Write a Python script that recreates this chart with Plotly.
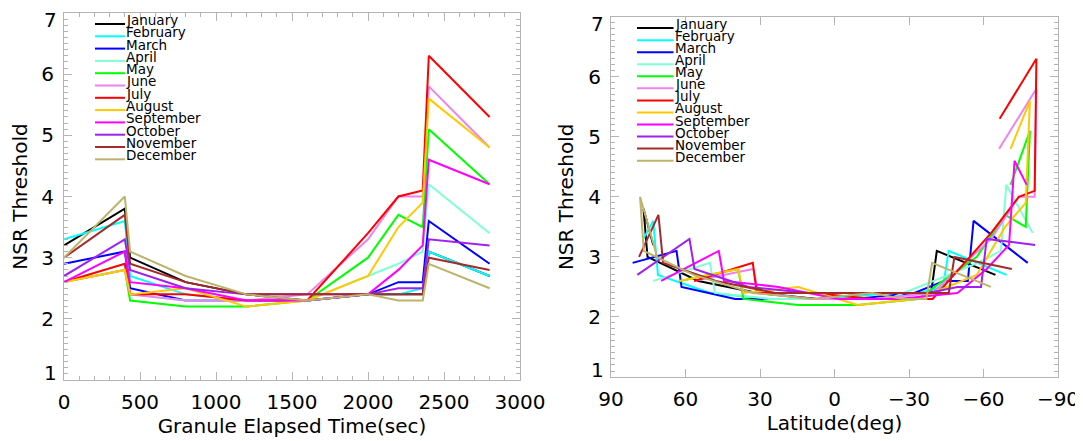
"""Monthly NSR threshold vs granule elapsed time and latitude."""

import plotly.graph_objects as go
from plotly.subplots import make_subplots

# Months, line colours and sample times along the orbit
MONTHS = ["January", "February", "March", "April", "May", "June", "July",
          "August", "September", "October", "November", "December"]
COLORS = ["#000000", "#00ffff", "#0000ff", "#7fffd4", "#00ff00", "#ee82ee",
          "#ff0000", "#ffc800", "#ff00ff", "#a020f0", "#a52a2a", "#bdb36b"]
TIME_SEC = [0, 400, 435, 800, 1200, 1600, 2000, 2200, 2360, 2400, 2800]

# NSR threshold per month at each sample time
NSR_JAN = [3.2, 3.8, 3.0, 2.6, 2.4, 2.3, 2.4, 2.4, 2.4, 3.1, 2.7]
NSR_FEB = [3.3, 3.6, 2.7, 2.4, 2.3, 2.3, 2.4, 2.4, 2.5, 3.1, 2.7]
NSR_MAR = [2.9, 3.1, 2.5, 2.3, 2.3, 2.3, 2.4, 2.6, 2.6, 3.6, 2.9]
NSR_APR = [2.6, 2.9, 2.4, 2.3, 2.3, 2.3, 2.7, 2.9, 3.1, 4.2, 3.4]
NSR_MAY = [2.6, 2.8, 2.3, 2.2, 2.2, 2.3, 3.0, 3.7, 3.5, 5.1, 4.2]
NSR_JUN = [2.6, 2.8, 2.4, 2.3, 2.3, 2.4, 3.3, 4.0, 4.0, 5.8, 4.8]
NSR_JUL = [2.6, 2.9, 2.4, 2.4, 2.3, 2.3, 3.4, 4.0, 4.1, 6.3, 5.3]
NSR_AUG = [2.6, 2.8, 2.4, 2.5, 2.2, 2.3, 2.7, 3.5, 3.9, 5.6, 4.8]
NSR_SEP = [2.6, 3.1, 2.6, 2.5, 2.3, 2.3, 2.4, 2.8, 3.2, 4.6, 4.2]
NSR_OCT = [2.7, 3.3, 2.8, 2.5, 2.4, 2.4, 2.4, 2.5, 2.5, 3.3, 3.2]
NSR_NOV = [3.0, 3.7, 2.9, 2.6, 2.4, 2.4, 2.4, 2.4, 2.4, 3.0, 2.8]
NSR_DEC = [3.0, 4.0, 3.1, 2.7, 2.4, 2.3, 2.4, 2.3, 2.3, 2.9, 2.5]

# Latitude (deg) of each sample per month
LAT_JAN = [73.0, 76.9, 75.3, 54.8, 31.0, 6.9, -17.2, -29.2, -38.9, -41.2, -64.8]
LAT_FEB = [77.0, 73.0, 71.1, 50.1, 26.2, 2.1, -22.0, -34.1, -43.7, -46.0, -69.3]
LAT_MAR = [81.3, 63.6, 61.6, 40.0, 16.0, -8.1, -32.2, -44.1, -53.7, -56.0, -77.8]
LAT_APR = [73.0, 50.2, 48.1, 26.3, 2.2, -21.9, -45.9, -57.7, -67.0, -69.2, -79.8]
LAT_MAY = [62.4, 38.8, 36.7, 14.7, -9.4, -33.5, -57.3, -68.7, -77.0, -78.7, -70.9]
LAT_JUN = [56.5, 32.7, 30.6, 8.6, -15.5, -39.5, -63.1, -74.2, -80.6, -81.3, -66.3]
LAT_JUL = [56.5, 32.9, 31.3, 8.6, -15.5, -39.5, -63.1, -74.2, -80.6, -81.3, -66.5]
LAT_AUG = [62.4, 38.8, 36.7, 14.7, -9.4, -33.5, -57.3, -68.7, -77.0, -78.7, -70.9]
LAT_SEP = [69.8, 46.6, 44.5, 22.6, -1.5, -25.6, -49.5, -61.3, -70.3, -72.5, -77.4]
LAT_OCT = [79.4, 58.4, 56.4, 34.6, 10.6, -13.5, -37.6, -49.5, -59.0, -61.3, -80.8]
LAT_NOV = [78.7, 70.9, 69.0, 47.8, 23.8, -0.3, -24.4, -36.4, -46.0, -48.3, -71.4]
LAT_DEC = [71.4, 78.3, 76.8, 56.7, 32.9, 8.8, -15.3, -27.4, -37.0, -39.3, -63.0]

# Tick values and labels
TIME_TICKS = [0, 500, 1000, 1500, 2000, 2500, 3000]
LAT_TICKS = [90, 60, 30, 0, -30, -60, -90]
NSR_TICKS = [1, 2, 3, 4, 5, 6, 7]
NSR_TICK_TEXT = ["1", "2", "3", "4", "5", "6", "7"]

NSR = [NSR_JAN, NSR_FEB, NSR_MAR, NSR_APR, NSR_MAY, NSR_JUN,
       NSR_JUL, NSR_AUG, NSR_SEP, NSR_OCT, NSR_NOV, NSR_DEC]
LAT = [LAT_JAN, LAT_FEB, LAT_MAR, LAT_APR, LAT_MAY, LAT_JUN,
       LAT_JUL, LAT_AUG, LAT_SEP, LAT_OCT, LAT_NOV, LAT_DEC]

# page body adds an 8px margin, so the figure is drawn that much smaller
PAD = 8
W, H = 1083 - PAD, 441 - PAD
FONT = "DejaVu Sans"
AXIS_GREY = "#b4b4b4"


def xdom(left, right):
    return [(left - PAD) / W, (right - PAD) / W]


def ydom(top, bottom):
    return [(H - (bottom - PAD)) / H, (H - (top - PAD)) / H]


def add_legend(fig, xref, yref, x0, x1, top, step, height):
    """Draw the compact month legend inside a panel."""
    for i, (month, color) in enumerate(zip(MONTHS, COLORS)):
        y = 1 - (top + step * i) / height
        fig.add_shape(type="line", xref=xref, yref=yref, x0=x0, x1=x1,
                      y0=y, y1=y, line=dict(color=color, width=2))
        fig.add_annotation(text=month, xref=xref, yref=yref, x=x1, y=y,
                           xanchor="left", yanchor="middle", yshift=4,
                           showarrow=False, borderpad=0,
                           font=dict(family=FONT, size=13.5, color="black"))


def add_end_labels(fig, xref, yref):
    """IDL nudges the first and last y labels inside the box."""
    for value, text, shift in [(NSR_TICKS[0], NSR_TICK_TEXT[0], 7),
                               (NSR_TICKS[-1], NSR_TICK_TEXT[-1], -7)]:
        fig.add_annotation(text=text, xref=xref, yref=yref, x=0, y=value,
                           xanchor="right", yanchor="middle", xshift=-6,
                           yshift=shift, showarrow=False, borderpad=0,
                           font=dict(family=FONT, size=20, color="black"))


fig = make_subplots(rows=1, cols=2)

for i, month in enumerate(MONTHS):
    line = dict(color=COLORS[i], width=2)
    fig.add_trace(go.Scatter(x=TIME_SEC, y=NSR[i], mode="lines", line=line,
                             name=month), row=1, col=1)
    fig.add_trace(go.Scatter(x=LAT[i], y=NSR[i], mode="lines", line=line,
                             name=month), row=1, col=2)

axis_style = dict(
    showline=True, linecolor=AXIS_GREY, linewidth=1, mirror="allticks",
    ticks="inside", ticklen=8, tickwidth=1, tickcolor=AXIS_GREY,
    showgrid=False, zeroline=False, automargin=False,
    tickfont=dict(family=FONT, size=20, color="black"),
    title_font=dict(family=FONT, size=20, color="black"),
)
minor_style = dict(ticks="inside", ticklen=4, tickcolor=AXIS_GREY, showgrid=False)
inner_text = [""] + NSR_TICK_TEXT[1:-1] + [""]

fig.update_layout(
    width=W, height=H,
    margin=dict(l=0, r=0, t=0, b=0),
    paper_bgcolor="white", plot_bgcolor="white",
    showlegend=False,
    xaxis=dict(axis_style, domain=xdom(64, 520), range=[0, 3000],
               tickvals=TIME_TICKS, minor=dict(minor_style, dtick=100),
               ticklabelstandoff=4,
               title=dict(text="Granule Elapsed Time(sec)", standoff=4)),
    yaxis=dict(axis_style, domain=ydom(13, 380), range=[1, 7],
               tickvals=NSR_TICKS, ticktext=inner_text,
               minor=dict(minor_style, dtick=0.1), ticklabelstandoff=5,
               title=dict(text="NSR Threshold", standoff=9)),
    xaxis2=dict(axis_style, domain=xdom(611, 1058), range=[90, -90],
                tickvals=LAT_TICKS, ticklabelstandoff=4,
                title=dict(text="Latitude(deg)", standoff=4)),
    yaxis2=dict(axis_style, domain=ydom(16.7, 377), range=[1, 7],
                tickvals=NSR_TICKS, ticktext=inner_text,
                minor=dict(minor_style, dtick=0.1), ticklabelstandoff=5,
                title=dict(text="NSR Threshold", standoff=9)),
)

add_legend(fig, "x domain", "y domain", 31 / 456, 61 / 456, 11, 12.3, 367)
add_legend(fig, "x2 domain", "y2 domain", 26 / 447, 62.5 / 447, 11.4, 12.05, 360.3)
add_end_labels(fig, "x domain", "y")
add_end_labels(fig, "x2 domain", "y2")

fig.write_html("out.html")
